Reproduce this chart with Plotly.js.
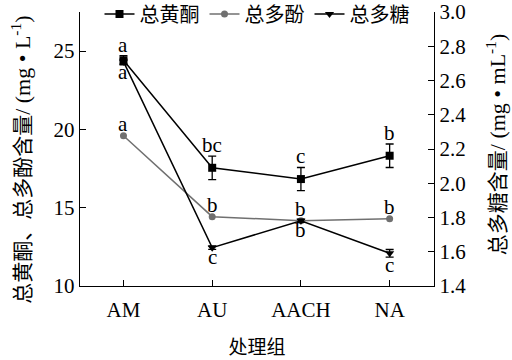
<!DOCTYPE html>
<html><head><meta charset="utf-8">
<script src="https://cdn.plot.ly/plotly-3.0.1.min.js"></script>
<style>body{margin:0;padding:0;background:#fff}#c{width:512px;height:360px}</style>
</head><body><div id="c"></div>
<script>
const groups = ["AM", "AU", "AACH", "NA"];
const flavonoid = [24.42, 17.55, 16.83, 18.32];
const flavonoidErr = [0.3, 0.75, 0.74, 0.75];
const polyphenol = [19.6, 14.43, 14.17, 14.3];
const polysaccharide = [2.71, 1.624, 1.781, 1.591];
const polysaccharideErr = [0.015, 0.01, 0.01, 0.022];
const flavLetters = ["a", "bc", "c", "b"];
const polyLetters = ["a", "b", "b", "b"];
const sugarLetters = ["a", "c", "b", "c"];
const names = ["总黄酮", "总多酚", "总多糖"];
const leftTitle = ["总黄酮、总多酚含量", "/ (mg • L<sup>-1</sup>)"];
const rightTitle = ["总多糖含量", "/ (mg • mL<sup>-1</sup>)"];

const FONT = "Liberation Serif, serif";
const CJK = "Noto Sans CJK SC";
const ser = t => '<span style="font-family:Liberation Serif;font-size:22px">' + t + '</span>';
const traces = [
  {x: groups, y: flavonoid, name: names[0], type: "scatter", mode: "lines+markers",
   line: {color: "#000", width: 1.5}, marker: {symbol: "square", size: 8, color: "#000"},
   error_y: {type: "data", array: flavonoidErr, visible: true, color: "#000", thickness: 1.3, width: 4}},
  {x: groups, y: polyphenol, name: names[1], type: "scatter", mode: "lines+markers",
   line: {color: "#707070", width: 1.5}, marker: {symbol: "circle", size: 7, color: "#707070"}},
  {x: groups, y: polysaccharide, name: names[2], type: "scatter", mode: "lines+markers", yaxis: "y2",
   line: {color: "#000", width: 1.5}, marker: {symbol: "triangle-down", size: 8, color: "#000"},
   error_y: {type: "data", array: polysaccharideErr, visible: true, color: "#000", thickness: 1.3, width: 4}}
];

const ann = [];
const lf = {family: FONT, size: 21, color: "#000"};
groups.forEach((g, i) => {
  ann.push({x: g, y: flavonoid[i] + flavonoidErr[i], text: flavLetters[i], showarrow: false,
            yanchor: "bottom", yshift: -3, font: lf});
  ann.push({x: g, y: polyphenol[i], text: polyLetters[i], showarrow: false,
            yanchor: "bottom", yshift: -2, font: lf});
  ann.push({x: g, y: polysaccharide[i] - polysaccharideErr[i], yref: "y2", text: sugarLetters[i], showarrow: false,
            yanchor: "top", yshift: 6, font: lf});
});
ann.push({xref: "paper", yref: "paper", x: -0.167, y: 0.46, xanchor: "center", yanchor: "middle",
          textangle: -90, showarrow: false, text: leftTitle[0] + ser(leftTitle[1]),
          font: {family: CJK, size: 21, color: "#000"}});
ann.push({xref: "paper", yref: "paper", x: 1.176, y: 0.515, xanchor: "center", yanchor: "middle",
          textangle: -90, showarrow: false, text: rightTitle[0] + ser(rightTitle[1]),
          font: {family: CJK, size: 21, color: "#000"}});

const layout = {
  width: 512, height: 360,
  margin: {l: 80, r: 78, t: 12, b: 74, autoexpand: false},
  paper_bgcolor: "#fff", plot_bgcolor: "#fff",
  font: {family: FONT, size: 20, color: "#000"},
  showlegend: true,
  legend: {orientation: "h", x: 0.5, xanchor: "center", yref: "container", y: 0.961, yanchor: "middle",
           font: {family: CJK, size: 20}, itemwidth: 30, tracegroupgap: 0,
           bgcolor: "rgba(0,0,0,0)"},
  xaxis: {type: "category", range: [-0.49, 3.5], showline: true, linecolor: "#000", linewidth: 1.3,
          ticks: "inside", ticklen: 6, tickcolor: "#000", showgrid: false, zeroline: false,
          tickfont: {family: FONT, size: 21}, ticklabelstandoff: 4,
          title: {text: "处理组", font: {family: CJK, size: 19}, standoff: 20}},
  yaxis: {range: [10, 27.5], tickvals: [10, 15, 20, 25], showline: true, linecolor: "#000", linewidth: 1.3,
          ticks: "inside", ticklen: 6, tickcolor: "#000", showgrid: false, zeroline: false,
          tickfont: {family: FONT, size: 21}},
  yaxis2: {range: [1.4, 3.0], dtick: 0.2, tick0: 1.4, tickformat: ".1f", overlaying: "y", side: "right",
           showline: true, linecolor: "#000", linewidth: 1.3, ticks: "inside", ticklen: 6, tickcolor: "#000",
           showgrid: false, zeroline: false, tickfont: {family: FONT, size: 21}},
  annotations: ann
};
Plotly.newPlot("c", traces, layout, {displayModeBar: false, staticPlot: true});
</script></body></html>
